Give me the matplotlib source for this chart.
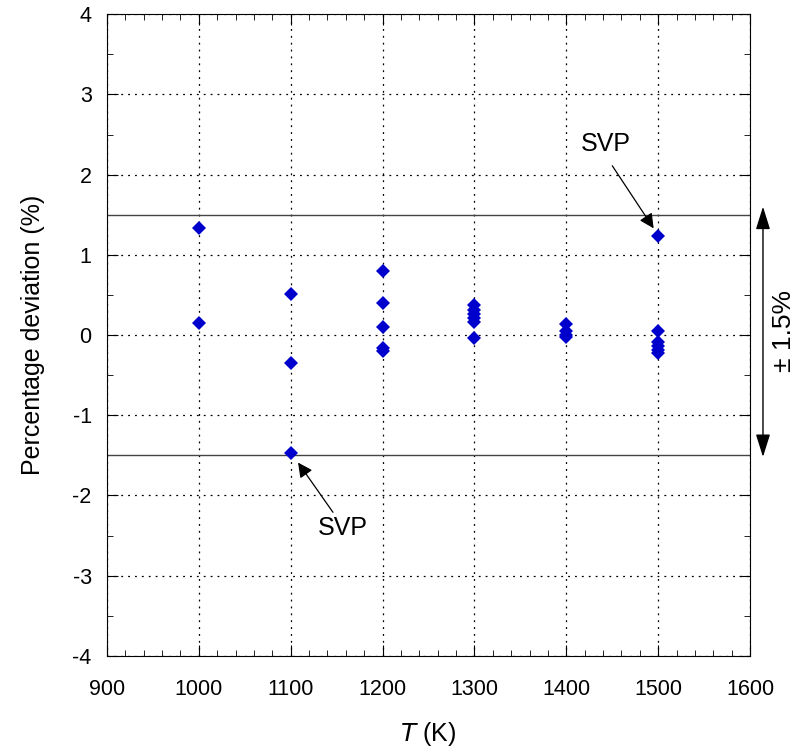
import matplotlib
matplotlib.use('Agg')
import matplotlib.pyplot as plt
from matplotlib.ticker import MultipleLocator

plt.rcParams['font.family'] = ['Liberation Sans', 'DejaVu Sans']

# deviations of measured values from the correlation, by temperature
temps = [1000, 1000,
         1100, 1100, 1100,
         1200, 1200, 1200, 1200, 1200,
         1300, 1300, 1300, 1300, 1300, 1300,
         1400, 1400, 1400, 1400,
         1500, 1500, 1500, 1500, 1500, 1500]
deviation = [1.33, 0.15,
             0.51, -0.35, -1.47,
             0.80, 0.40, 0.10, -0.16, -0.20,
             0.38, 0.31, 0.26, 0.21, 0.16, -0.04,
             0.14, 0.05, 0.0, -0.03,
             1.23, 0.05, -0.09, -0.14, -0.19, -0.23]
band = 1.5

fig = plt.figure(figsize=(7.98, 7.47), dpi=100)
ax = fig.add_axes([0.134, 0.122, 0.806, 0.859])

ax.axhline(band, color='#444444', lw=1.0)
ax.axhline(-band, color='#444444', lw=1.0)
ax.plot(temps, deviation, 'D', color='#0000cc', ms=7, mew=0, zorder=3)

ax.set_xlim(900, 1600)
ax.set_ylim(-4, 4)
ax.xaxis.set_major_locator(MultipleLocator(100))
ax.xaxis.set_minor_locator(MultipleLocator(20))
ax.yaxis.set_major_locator(MultipleLocator(1))
ax.yaxis.set_minor_locator(MultipleLocator(0.5))
ax.tick_params(which='both', direction='in', top=True, right=True,
               labelsize=15.5)
ax.tick_params(axis='x', pad=17)
ax.tick_params(axis='y', pad=11)
ax.tick_params(which='major', length=8)
ax.tick_params(which='minor', length=4)
ax.yaxis.set_major_formatter(plt.FuncFormatter(lambda v, p: '%d' % v))
ax.grid(True, which='major', ls=(0, (1.5, 4)), color='black', lw=0.9)

ax.set_xlabel('$\\mathit{T}$ (K)', fontsize=18, labelpad=14)
ax.set_ylabel('Percentage deviation (%)', fontsize=18, labelpad=20)

# labels for the saturated vapour pressure points
ax.text(1443, 2.38, 'SVP', fontsize=18, ha='center', va='center')
ax.annotate('', xy=(1495, 1.33), xytext=(1450, 2.11),
            arrowprops=dict(arrowstyle='-|>', color='black', lw=0.9,
                            mutation_scale=22, shrinkA=0, shrinkB=0))
ax.text(1157, -2.4, 'SVP', fontsize=18, ha='center', va='center')
ax.annotate('', xy=(1108, -1.59), xytext=(1146, -2.21),
            arrowprops=dict(arrowstyle='-|>', color='black', lw=0.9,
                            mutation_scale=22, shrinkA=0, shrinkB=0))

# range marker outside the right axis
ax.annotate('', xy=(1614, 1.6), xytext=(1614, -1.52),
            xycoords='data', textcoords='data', annotation_clip=False,
            arrowprops=dict(arrowstyle='<|-|>,head_length=0.7,head_width=0.22',
                            color='black', lw=1.0,
                            mutation_scale=20, shrinkA=0, shrinkB=0))
ax.text(1637, 0.05, '± 1.5%', rotation=90, fontsize=19, ha='center',
        va='center', clip_on=False)

fig.savefig('out.png', dpi=100)
